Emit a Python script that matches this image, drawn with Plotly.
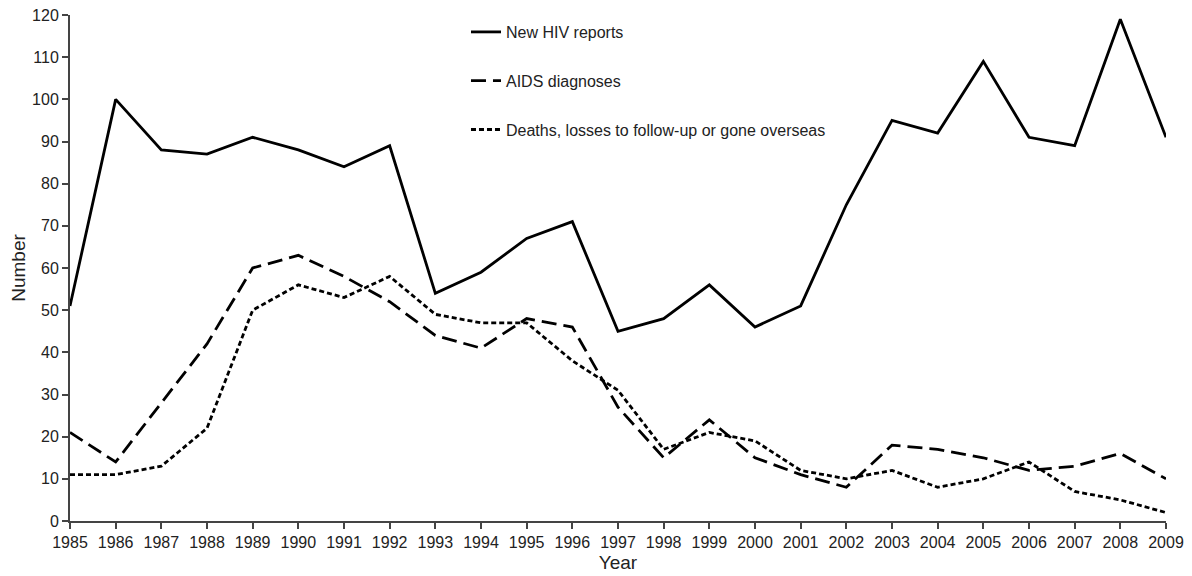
import plotly.graph_objects as go

years = list(range(1985, 2010))
new_hiv = [51, 100, 88, 87, 91, 88, 84, 89, 54, 59, 67, 71, 45, 48, 56, 46, 51, 75, 95, 92, 109, 91, 89, 119, 91]
aids = [21, 14, 28, 42, 60, 63, 58, 52, 44, 41, 48, 46, 27, 15, 24, 15, 11, 8, 18, 17, 15, 12, 13, 16, 10]
deaths = [11, 11, 13, 22, 50, 56, 53, 58, 49, 47, 47, 38, 31, 17, 21, 19, 12, 10, 12, 8, 10, 14, 7, 5, 2]

fig = go.Figure()

fig.add_trace(go.Scatter(
    x=years, y=new_hiv, mode='lines', name='New HIV reports',
    legendgroup='a', line=dict(color='black', width=2.8)
))
fig.add_trace(go.Scatter(
    x=years, y=aids, mode='lines', name='AIDS diagnoses',
    legendgroup='b', line=dict(color='black', width=2.8, dash='15px,7px')
))
fig.add_trace(go.Scatter(
    x=years, y=deaths, mode='lines', name='Deaths, losses to follow-up or gone overseas',
    legendgroup='c', line=dict(color='black', width=2.8, dash='5px,3px')
))

axis_font = dict(family='Liberation Sans, Arial', size=16, color='#222')

# page body has an 8px margin, so the figure is sized to fit inside it
fig.update_layout(
    width=1184, height=568,
    margin=dict(l=62, r=26, t=7, b=55, autoexpand=False),
    paper_bgcolor='white', plot_bgcolor='white',
    font=axis_font,
    showlegend=True,
    legend=dict(
        x=0.3613, y=1.0, xanchor='left', yanchor='top',
        tracegroupgap=25, bgcolor='rgba(0,0,0,0)',
        font=dict(family='Liberation Sans, Arial', size=16, color='#222')
    ),
    xaxis=dict(
        range=[1985, 2009], tickmode='array', tickvals=years, automargin=False,
        showgrid=False, zeroline=False, showline=True, linecolor='#444', linewidth=2,
        ticks='outside', ticklen=6, tickcolor='#444', tickwidth=2,
        ticklabeloverflow='allow',
        title=dict(text='Year', standoff=5)
    ),
    yaxis=dict(
        range=[0, 120], dtick=10, automargin=False,
        showgrid=False, zeroline=False, showline=True, linecolor='#444', linewidth=2,
        ticks='outside', ticklen=6, tickcolor='#444', tickwidth=2,
        ticklabeloverflow='allow',
        title=dict(text='Number', standoff=2)
    ),
)

fig.write_html("out.html")
